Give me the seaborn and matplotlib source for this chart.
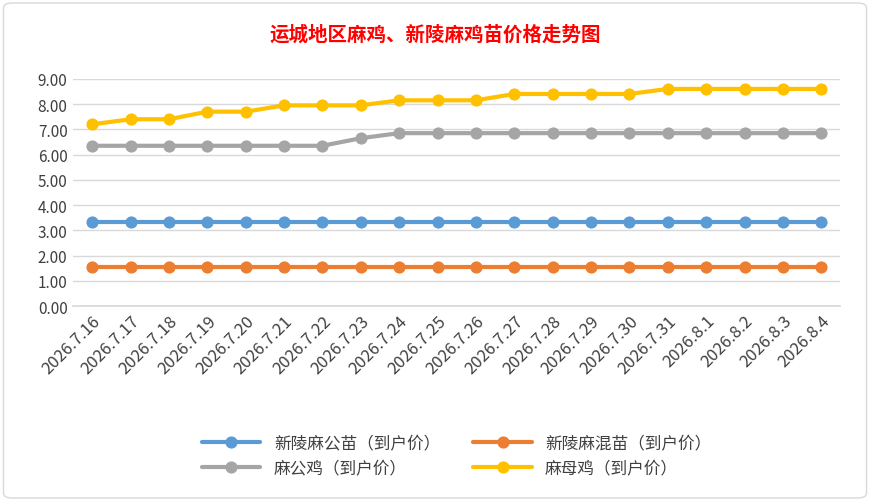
import matplotlib
matplotlib.use("Agg")
import matplotlib.pyplot as plt
import seaborn as sns
import pandas as pd
from matplotlib.patches import FancyBboxPatch

dates = ["2026.7.16", "2026.7.17", "2026.7.18", "2026.7.19", "2026.7.20", "2026.7.21",
         "2026.7.22", "2026.7.23", "2026.7.24", "2026.7.25", "2026.7.26", "2026.7.27",
         "2026.7.28", "2026.7.29", "2026.7.30", "2026.7.31", "2026.8.1", "2026.8.2",
         "2026.8.3", "2026.8.4"]
xinling_gong = [3.35] * 20
xinling_hun = [1.55] * 20
ma_gong = [6.35, 6.35, 6.35, 6.35, 6.35, 6.35, 6.35, 6.65, 6.85, 6.85, 6.85, 6.85,
           6.85, 6.85, 6.85, 6.85, 6.85, 6.85, 6.85, 6.85]
ma_mu = [7.2, 7.4, 7.4, 7.7, 7.7, 7.95, 7.95, 7.95, 8.15, 8.15, 8.15, 8.4,
         8.4, 8.4, 8.4, 8.6, 8.6, 8.6, 8.6, 8.6]

series = {
    "新陵麻公苗（到户价）": (xinling_gong, "#5B9BD5"),
    "新陵麻混苗（到户价）": (xinling_hun, "#ED7D31"),
    "麻公鸡（到户价）": (ma_gong, "#A5A5A5"),
    "麻母鸡（到户价）": (ma_mu, "#FFC000"),
}

sns.set_theme(style="white")
plt.rcParams['font.family'] = ['Noto Sans CJK SC', 'DejaVu Sans']

fig = plt.figure(figsize=(8.7, 5.02), dpi=100)
fig.patches.append(FancyBboxPatch((0.004, 0.006), 0.992, 0.986, boxstyle="round,pad=0,rounding_size=0.01",
                                  transform=fig.transFigure, fill=False, ec="#D9D9D9", lw=1))
ax = fig.add_axes([0.084, 0.388, 0.882, 0.453])

x = list(range(len(dates)))
for name, (vals, color) in series.items():
    df = pd.DataFrame({"x": x, "y": vals})
    sns.lineplot(data=df, x="x", y="y", ax=ax, color=color, lw=3, marker="o",
                 markersize=8, markeredgecolor=color, label=name)

ax.set_xlim(-0.5, len(dates) - 0.5)
ax.set_ylim(0, 9)
ax.set_yticks([i for i in range(10)])
ax.set_yticklabels([f"{i:.2f}" for i in range(10)], fontsize=11, color="#404040")
ax.set_xticks(x)
ax.set_xticklabels(dates, rotation=45, ha="right", rotation_mode="anchor", fontsize=12, color="#404040")
ax.tick_params(axis="both", length=0, pad=4)
ax.grid(axis="y", color="#D9D9D9", lw=1)
for s in ["top", "right", "left"]:
    ax.spines[s].set_visible(False)
ax.spines["bottom"].set_color("#D9D9D9")
ax.set_xlabel("")
ax.set_ylabel("")

fig.text(0.5, 0.93, "运城地区麻鸡、新陵麻鸡苗价格走势图", ha="center", va="center",
         fontsize=14, color="#FF0000", fontweight="bold")
h, l = ax.get_legend_handles_labels()
order = [0, 2, 1, 3]
ax.legend([h[i] for i in order], [l[i] for i in order], loc="upper center",
          bbox_to_anchor=(0.5, -0.5), ncol=2, frameon=False, fontsize=12,
          handlelength=3.5, columnspacing=2, labelcolor="#404040", labelspacing=0.5)

fig.savefig("out.png", dpi=100)
